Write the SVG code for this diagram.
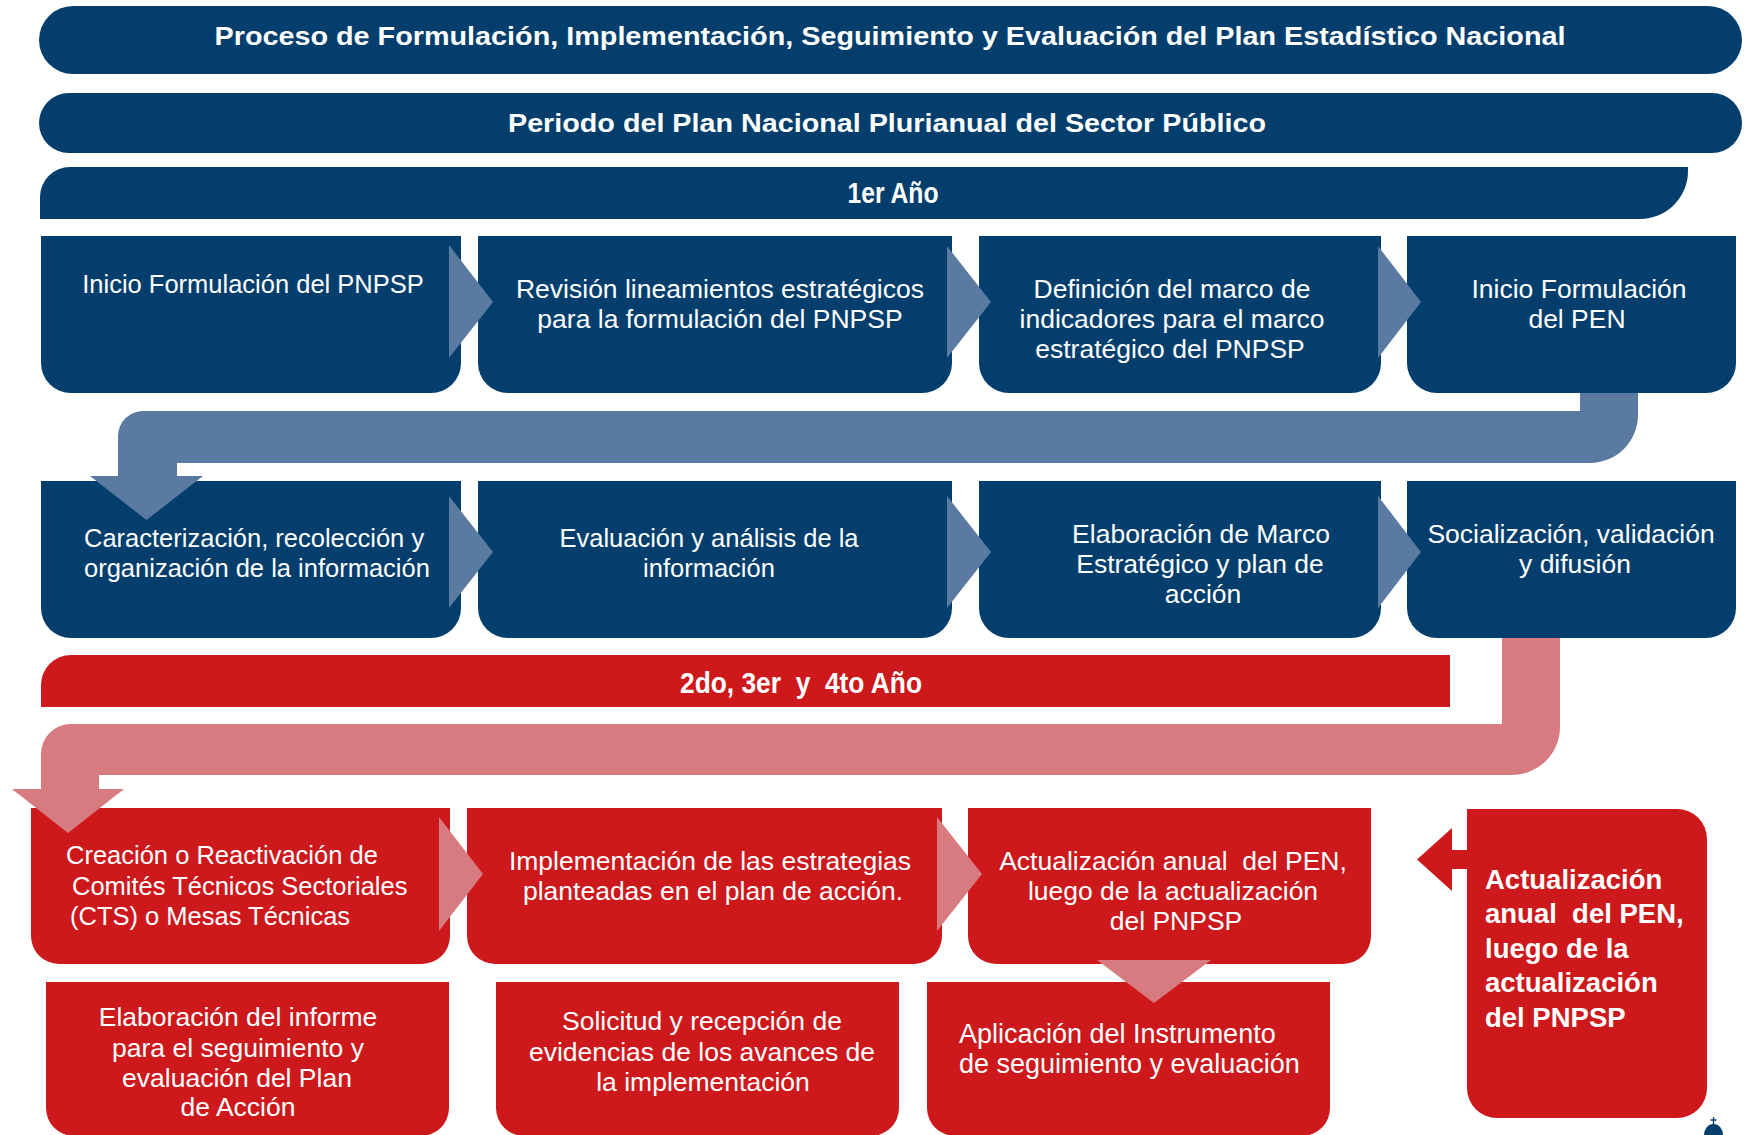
<svg xmlns="http://www.w3.org/2000/svg" width="1744" height="1135" viewBox="0 0 1744 1135">
<style>
.db{fill:#033e6d}
.rd{fill:#cd181c}
.lb{fill:#5b7aa2}
.pk{fill:#d87b80}
.t{font-family:"Liberation Sans",Arial,sans-serif;font-size:26.5px;fill:#fff;text-anchor:middle}
.n{font-size:25.5px}
.ts{font-family:"Liberation Sans",Arial,sans-serif;font-size:25.5px;fill:#fff;text-anchor:start}
.ts2{font-family:"Liberation Sans",Arial,sans-serif;font-size:27px;fill:#fff;text-anchor:start}
.h{font-family:"Liberation Sans",Arial,sans-serif;font-weight:bold;font-size:25px;fill:#fff;text-anchor:middle}
.hy{font-family:"Liberation Sans",Arial,sans-serif;font-weight:bold;font-size:30px;fill:#fff;text-anchor:middle}
.bb{font-family:"Liberation Sans",Arial,sans-serif;font-weight:bold;font-size:27.5px;fill:#fff;text-anchor:start}
</style>
<rect width="1744" height="1135" fill="#fff"/>

<g id="title">
<rect class="db" x="39" y="6" width="1703" height="68" rx="34"/>
<text class="h" x="890" y="45" textLength="1351" lengthAdjust="spacingAndGlyphs">Proceso de Formulación, Implementación, Seguimiento y Evaluación del Plan Estadístico Nacional</text>
</g>
<g id="period">
<rect class="db" x="39" y="93" width="1703" height="60" rx="30"/>
<text class="h" x="887" y="132" textLength="758" lengthAdjust="spacingAndGlyphs">Periodo del Plan Nacional Plurianual del Sector Público</text>
</g>
<g id="year1">
<path class="db" d="M40 219 V197 A30 30 0 0 1 70 167 H1688 V171 A48 48 0 0 1 1640 219 Z"/>
<text class="hy" x="893" y="203" textLength="91" lengthAdjust="spacingAndGlyphs">1er Año</text>
</g>

<g id="n1">
<path class="db" d="M41 236 H461 V363 A30 30 0 0 1 431 393 H71 A30 30 0 0 1 41 363 Z"/>
<text class="t n" x="253" y="293">Inicio Formulación del PNPSP</text>
</g>
<g id="n2">
<path class="db" d="M478 236 H952 V363 A30 30 0 0 1 922 393 H508 A30 30 0 0 1 478 363 Z"/>
<text class="t" x="720" y="298">Revisión lineamientos estratégicos</text>
<text class="t" x="720" y="328">para la formulación del PNPSP</text>
</g>
<g id="n3">
<path class="db" d="M979 236 H1381 V363 A30 30 0 0 1 1351 393 H1009 A30 30 0 0 1 979 363 Z"/>
<text class="t" x="1172" y="298">Definición del marco de</text>
<text class="t" x="1172" y="328">indicadores para el marco</text>
<text class="t" x="1170" y="358">estratégico del PNPSP</text>
</g>
<g id="n4">
<path class="db" d="M1407 236 H1736 V363 A30 30 0 0 1 1706 393 H1437 A30 30 0 0 1 1407 363 Z"/>
<text class="t" x="1579" y="298">Inicio Formulación</text>
<text class="t" x="1577" y="328">del PEN</text>
</g>

<g id="n5">
<path class="db" d="M41 481 H461 V608 A30 30 0 0 1 431 638 H71 A30 30 0 0 1 41 608 Z"/>
<text class="ts" x="84" y="547">Caracterización, recolección y</text>
<text class="ts" x="84" y="577">organización de la información</text>
</g>
<g id="n6">
<path class="db" d="M478 481 H952 V608 A30 30 0 0 1 922 638 H508 A30 30 0 0 1 478 608 Z"/>
<text class="t n" x="709" y="547">Evaluación y análisis de la</text>
<text class="t n" x="709" y="577">información</text>
</g>
<g id="n7">
<path class="db" d="M979 481 H1381 V608 A30 30 0 0 1 1351 638 H1009 A30 30 0 0 1 979 608 Z"/>
<text class="t" x="1201" y="543">Elaboración de Marco</text>
<text class="t" x="1200" y="573">Estratégico y plan de</text>
<text class="t" x="1203" y="603">acción</text>
</g>
<g id="n8">
<path class="db" d="M1407 481 H1736 V608 A30 30 0 0 1 1706 638 H1437 A30 30 0 0 1 1407 608 Z"/>
<text class="t" x="1571" y="543">Socialización, validación</text>
<text class="t" x="1575" y="573">y difusión</text>
</g>

<g id="years234">
<path class="rd" d="M41 707 V685 A30 30 0 0 1 71 655 H1450 V707 Z"/>
<text class="hy" x="801" y="693" textLength="242" lengthAdjust="spacingAndGlyphs" xml:space="preserve">2do, 3er  y  4to Año</text>
</g>

<g id="n9">
<path class="rd" d="M31 808 H450 V936 A28 28 0 0 1 422 964 H59 A28 28 0 0 1 31 936 Z"/>
<text class="ts" x="66" y="864">Creación o Reactivación de</text>
<text class="ts" x="72" y="895">Comités Técnicos Sectoriales</text>
<text class="ts" x="70" y="925">(CTS) o Mesas Técnicas</text>
</g>
<g id="n10">
<path class="rd" d="M467 808 H942 V936 A28 28 0 0 1 914 964 H495 A28 28 0 0 1 467 936 Z"/>
<text class="t" x="710" y="870">Implementación de las estrategias</text>
<text class="t" x="713" y="900">planteadas en el plan de acción.</text>
</g>
<g id="n11">
<path class="rd" d="M968 808 H1371 V936 A28 28 0 0 1 1343 964 H996 A28 28 0 0 1 968 936 Z"/>
<text class="t" x="1173" y="870" xml:space="preserve">Actualización anual  del PEN,</text>
<text class="t" x="1173" y="900">luego de la actualización</text>
<text class="t" x="1176" y="930">del PNPSP</text>
</g>
<g id="n12">
<path class="rd" d="M46 982 H449 V1108 A28 28 0 0 1 421 1136 H74 A28 28 0 0 1 46 1108 Z"/>
<text class="t" x="238" y="1026">Elaboración del informe</text>
<text class="t" x="238" y="1057">para el seguimiento y</text>
<text class="t" x="237" y="1087">evaluación del Plan</text>
<text class="t" x="238" y="1116">de Acción</text>
</g>
<g id="n13">
<path class="rd" d="M496 982 H899 V1108 A28 28 0 0 1 871 1136 H524 A28 28 0 0 1 496 1108 Z"/>
<text class="t" x="702" y="1030">Solicitud y recepción de</text>
<text class="t" x="702" y="1061">evidencias de los avances de</text>
<text class="t" x="703" y="1091">la implementación</text>
</g>
<g id="n14">
<path class="rd" d="M927 982 H1330 V1108 A28 28 0 0 1 1302 1136 H955 A28 28 0 0 1 927 1108 Z"/>
<text class="ts2" x="959" y="1043">Aplicación del Instrumento</text>
<text class="ts2" x="959" y="1073">de seguimiento y evaluación</text>
</g>
<g id="n15">
<path class="rd" d="M1467 809 H1677 A30 30 0 0 1 1707 839 V1088 A30 30 0 0 1 1677 1118 H1497 A30 30 0 0 1 1467 1088 Z"/>
<text class="bb" x="1485" y="889">Actualización</text>
<text class="bb" x="1485" y="923" xml:space="preserve">anual  del PEN,</text>
<text class="bb" x="1485" y="958">luego de la</text>
<text class="bb" x="1485" y="992">actualización</text>
<text class="bb" x="1485" y="1027">del PNPSP</text>
</g>

<g id="connectors">
<polygon class="lb" points="449,245 493,302 449,358"/>
<polygon class="lb" points="947,246 991,302 947,358"/>
<polygon class="lb" points="1378,246 1421,302 1378,358"/>
<path class="lb" d="M1580 393 H1638 V415 A48 48 0 0 1 1590 463 H177 V476 H203 L146.5 520 L90 476 H118 V436 A25 25 0 0 1 143 411 H1580 Z"/>
<polygon class="lb" points="449,496 493,552 449,608"/>
<polygon class="lb" points="947,496 991,552 947,608"/>
<polygon class="lb" points="1378,496 1421,552 1378,608"/>
<path class="pk" d="M1502 638 H1560 V727 A48 48 0 0 1 1512 775 H99 V789 H124 L68 833 L12 789 H41 V754 A30 30 0 0 1 71 724 H1502 Z"/>
<polygon class="pk" points="439,817 483,874 439,931"/>
<polygon class="pk" points="937,817 982,874 937,931"/>
<polygon class="pk" points="1097,960 1211,960 1154,1003"/>
<polygon class="rd" points="1469,850 1452,850 1452,828 1417,859.5 1452,891 1452,869 1469,869"/>
</g>

<g id="logo-fragment">
<path class="db" d="M1704 1135 A9.5 11 0 0 1 1723 1135 Z"/>
<path d="M1713.5 1117 V1125 M1710.5 1120 H1716.5" stroke="#033e6d" stroke-width="1.3" fill="none"/>
</g>
</svg>
